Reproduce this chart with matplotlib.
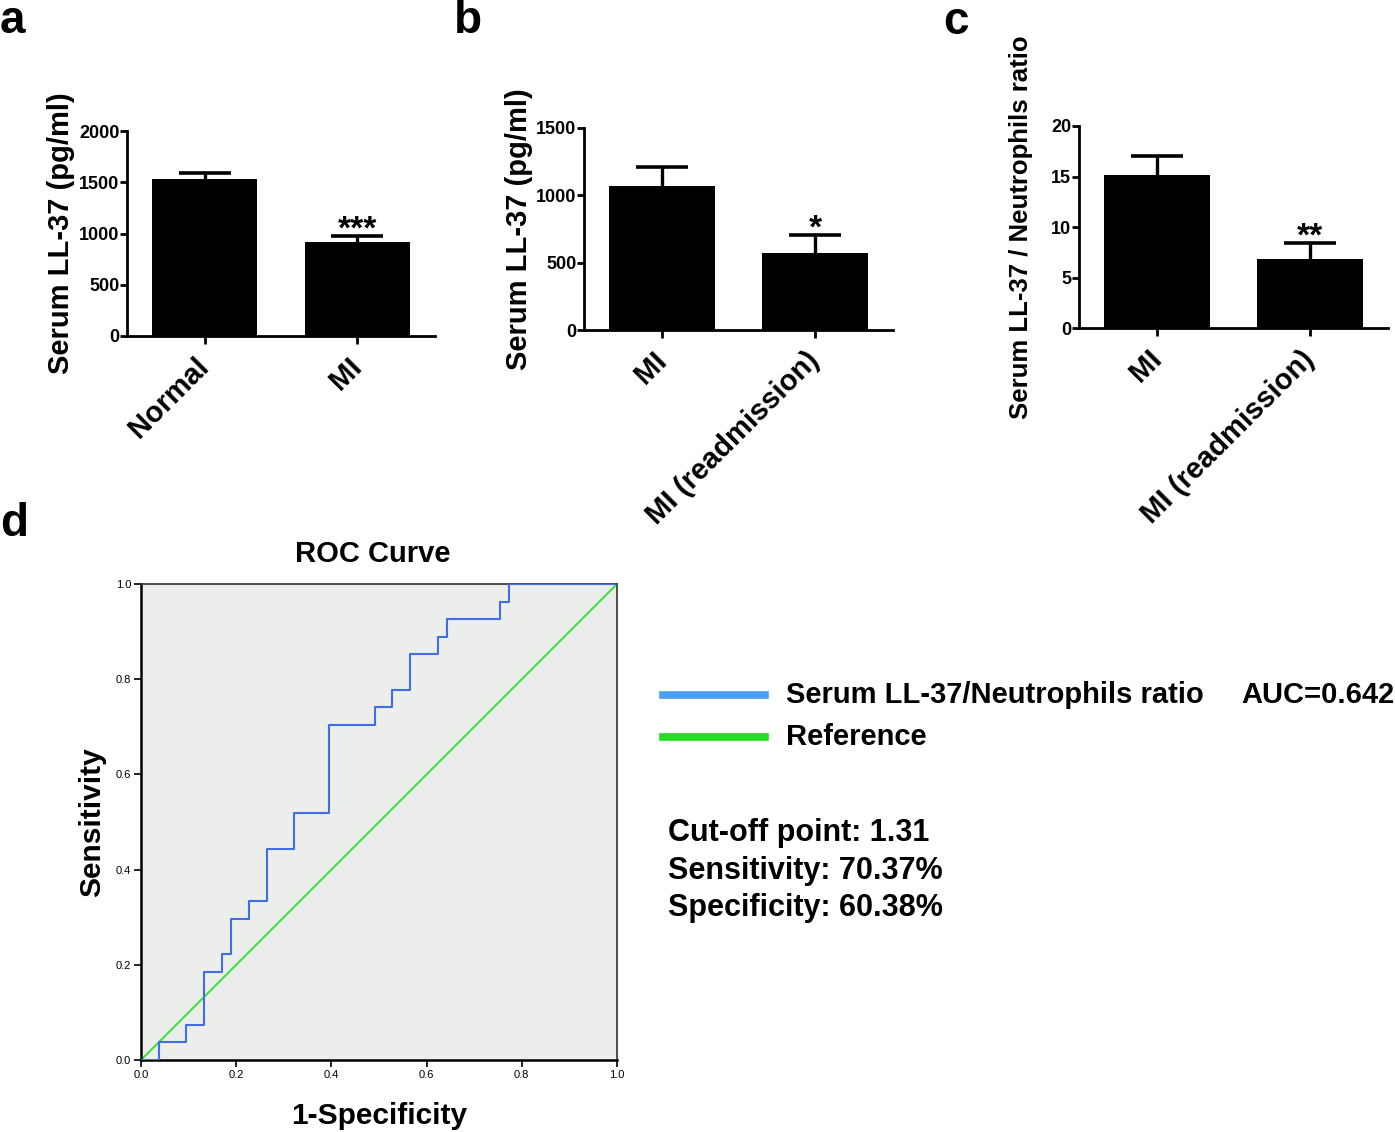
import matplotlib
matplotlib.use("Agg")
import matplotlib.pyplot as plt
from matplotlib.lines import Line2D

plt.rcParams['font.family'] = ['Liberation Sans', 'DejaVu Sans']
plt.rcParams['font.weight'] = 'bold'

# ---- data ----
a_cats = ["Normal", "MI"]
a_means = [1535, 915]
a_err = [55, 58]
a_stars = ["", "***"]

b_cats = ["MI", "MI (readmission)"]
b_means = [1070, 569]
b_err = [136, 135]
b_stars = ["", "*"]

c_cats = ["MI", "MI (readmission)"]
c_means = [15.2, 6.9]
c_err = [1.85, 1.5]
c_stars = ["", "**"]

roc_fpr = [0.0, 0.038, 0.094, 0.132, 0.170, 0.189, 0.226, 0.264, 0.321, 0.396,
           0.491, 0.528, 0.566, 0.623, 0.642, 0.755, 0.774, 1.0]
roc_tpr = [0.0, 0.037, 0.074, 0.185, 0.222, 0.296, 0.333, 0.444, 0.519, 0.704,
           0.741, 0.778, 0.852, 0.889, 0.926, 0.963, 1.0, 1.0]
ref_line = [0.0, 1.0]
roc_ticks = [0.0, 0.2, 0.4, 0.6, 0.8, 1.0]

W, H = 1395, 1132
fig = plt.figure(figsize=(W / 100, H / 100), dpi=100)


def fx(px):
    return px / W


def fy(py):
    return 1 - py / H


def bar_panel(rect, cats, means, errs, stars, ylim, yticks, ylabel, ylabel_size, lpad):
    ax = fig.add_axes(rect)
    x = list(range(len(cats)))
    ax.bar(x, means, width=0.69, color="black", zorder=2)
    tops = [m + e for m, e in zip(means, errs)]
    ax.vlines(x, means, tops, color="black", lw=2.4, zorder=1)
    ax.plot(x, tops, ls="none", marker="_", markersize=38, mew=2.6, color="black", zorder=1)
    for xi, t, s in zip(x, tops, stars):
        if s:
            ax.annotate(s, (xi, t), xytext=(0, -7), textcoords="offset points",
                        ha="center", va="bottom", fontsize=24, fontweight="bold")
    ax.set_xlim(-0.51, 1.51)
    ax.set_ylim(*ylim)
    ax.set_yticks(yticks)
    ax.set_yticklabels([str(t) for t in yticks], fontsize=13, fontweight="bold")
    ax.set_xticks(x)
    ax.set_xticklabels(cats, rotation=45, ha="right", va="center", rotation_mode="anchor",
                       fontsize=21, fontweight="bold")
    for sp in ["top", "right"]:
        ax.spines[sp].set_visible(False)
    for sp in ["left", "bottom"]:
        ax.spines[sp].set_linewidth(2)
    ax.tick_params(axis="y", direction="out", length=5, width=2, pad=0.5)
    ax.tick_params(axis="x", direction="out", length=6, width=2, pad=13)
    ax.set_ylabel(ylabel, fontsize=ylabel_size, fontweight="bold", labelpad=lpad)
    return ax


axa = bar_panel([fx(127), fy(336), fx(435) - fx(127), fy(131) - fy(336)],
                a_cats, a_means, a_err, a_stars, (0, 2000), [0, 500, 1000, 1500, 2000],
                "Serum LL-37 (pg/ml)", 21, 3)
axb = bar_panel([fx(584), fy(330), fx(893) - fx(584), fy(127.7) - fy(330)],
                b_cats, b_means, b_err, b_stars, (0, 1500), [0, 500, 1000, 1500],
                "Serum LL-37 (pg/ml)", 21, 2)
axc = bar_panel([fx(1079), fy(328.3), fx(1388) - fx(1079), fy(126) - fy(328.3)],
                c_cats, c_means, c_err, c_stars, (0, 20), [0, 5, 10, 15, 20],
                "Serum LL-37 / Neutrophils ratio", 18.5, 13)

# ROC panel
axd = fig.add_axes([fx(141), fy(1060), fx(617) - fx(141), fy(584) - fy(1060)])
axd.set_facecolor("#eceeec")
axd.plot(ref_line, ref_line, color="#38e038", lw=1.4, zorder=2)
axd.plot(roc_fpr, roc_tpr, drawstyle="steps-post", color="#3f6ee6", lw=1.5, zorder=3)
axd.set_xlim(0, 1)
axd.set_ylim(0, 1)
axd.set_xticks(roc_ticks)
axd.set_yticks(roc_ticks)
axd.set_xticklabels([f"{t:.1f}" for t in roc_ticks], fontsize=8, fontweight="normal")
axd.set_yticklabels([f"{t:.1f}" for t in roc_ticks], fontsize=8, fontweight="normal")
axd.tick_params(direction="out", length=5, width=1.2, pad=2)
for sp in ["left", "bottom"]:
    axd.spines[sp].set_linewidth(1.8)
for sp in ["top", "right"]:
    axd.spines[sp].set_linewidth(1.2)
    axd.spines[sp].set_color("#333333")
axd.set_title("ROC Curve", fontsize=21, fontweight="bold", pad=16, x=0.487)
axd.set_xlabel("1-Specificity", fontsize=21.5, fontweight="bold", labelpad=16)
axd.set_ylabel("Sensitivity", fontsize=21.5, fontweight="bold", labelpad=7)

# legend (manual)
txt = ['Liberation Sans', 'DejaVu Sans']
fig.add_artist(Line2D([fx(663), fx(765)], [fy(695), fy(695)], color="#4aa0ee", lw=5.5,
                      transform=fig.transFigure))
fig.add_artist(Line2D([fx(663), fx(765)], [fy(737), fy(737)], color="#22dd22", lw=5.5,
                      transform=fig.transFigure))
fig.text(fx(786), fy(695), "Serum LL-37/Neutrophils ratio", fontsize=21, fontweight="bold",
         family=txt, va="center", ha="left")
fig.text(fx(1241), fy(695), "AUC=0.642", fontsize=21, fontweight="bold",
         family=txt, va="center", ha="left")
fig.text(fx(786), fy(737), "Reference", fontsize=21, fontweight="bold",
         family=txt, va="center", ha="left")
for i, s in enumerate(["Cut-off point: 1.31", "Sensitivity: 70.37%", "Specificity: 60.38%"]):
    fig.text(fx(668), fy(833 + i * 37.5), s, fontsize=22, fontweight="bold",
             family=txt, va="center", ha="left")

# panel letters
for letter, px, py in [("a", 12, 21), ("b", 468, 21), ("c", 956, 22), ("d", 14, 524)]:
    fig.text(fx(px), fy(py), letter, fontsize=33, fontweight="bold", ha="center", va="center")

fig.savefig("out.png", dpi=100)
